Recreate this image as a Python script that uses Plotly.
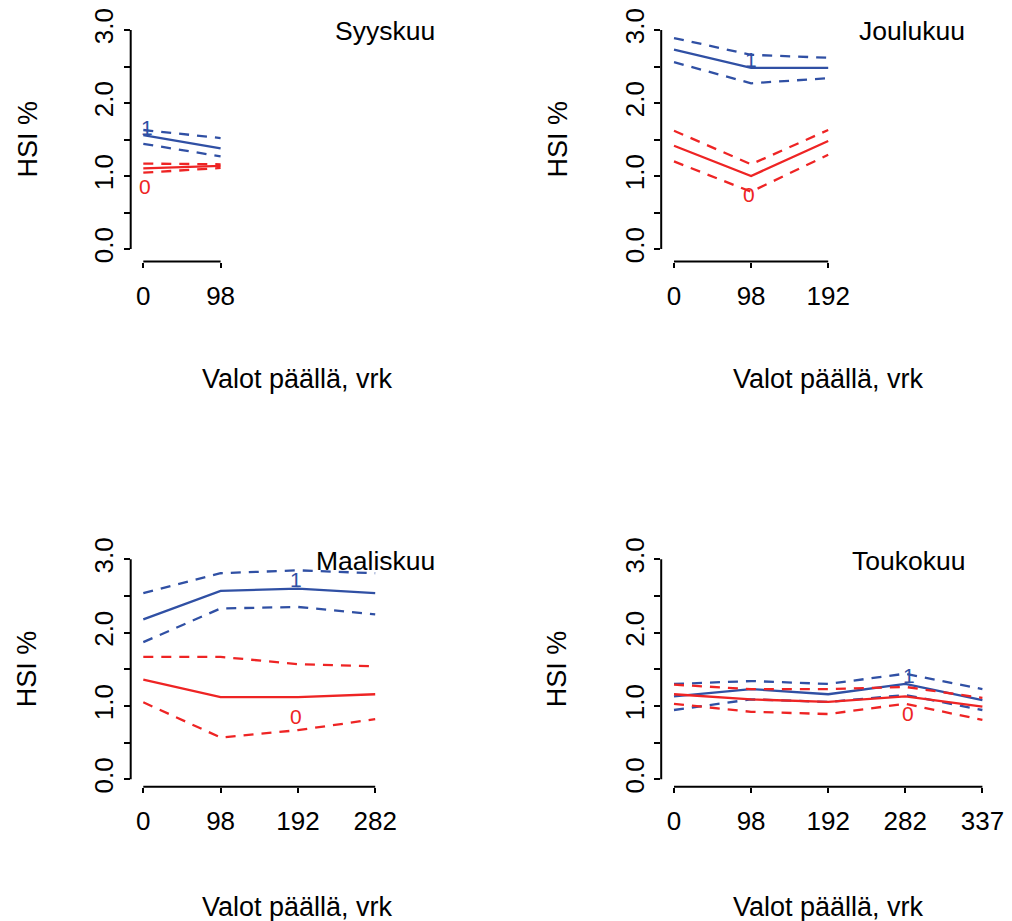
import plotly.graph_objects as go

# ---------------- data ----------------
panel_titles = ["Syyskuu", "Joulukuu", "Maaliskuu", "Toukokuu"]

syys_x = ["0", "98"]
syys_blue = [1.56, 1.38]
syys_blue_hi = [1.63, 1.52]
syys_blue_lo = [1.44, 1.27]
syys_red = [1.105, 1.14]
syys_red_hi = [1.17, 1.16]
syys_red_lo = [1.045, 1.11]

joulu_x = ["0", "98", "192"]
joulu_blue = [2.73, 2.48, 2.48]
joulu_blue_hi = [2.89, 2.66, 2.62]
joulu_blue_lo = [2.56, 2.27, 2.34]
joulu_red = [1.415, 1.00, 1.48]
joulu_red_hi = [1.62, 1.16, 1.63]
joulu_red_lo = [1.20, 0.785, 1.29]

maalis_x = ["0", "98", "192", "282"]
maalis_blue = [2.18, 2.57, 2.60, 2.54]
maalis_blue_hi = [2.54, 2.81, 2.85, 2.81]
maalis_blue_lo = [1.87, 2.33, 2.35, 2.25]
maalis_red = [1.36, 1.12, 1.12, 1.16]
maalis_red_hi = [1.67, 1.67, 1.57, 1.54]
maalis_red_lo = [1.05, 0.57, 0.67, 0.82]

touko_x = ["0", "98", "192", "282", "337"]
touko_blue = [1.13, 1.23, 1.16, 1.30, 1.08]
touko_blue_hi = [1.30, 1.34, 1.30, 1.44, 1.23]
touko_blue_lo = [0.945, 1.09, 1.055, 1.15, 0.945]
touko_red = [1.16, 1.09, 1.055, 1.13, 0.99]
touko_red_hi = [1.29, 1.23, 1.23, 1.26, 1.11]
touko_red_lo = [1.03, 0.92, 0.89, 1.03, 0.81]

# curve label anchor points (index on x, value on y)
lab1_pos = [(0.05, 1.67), (1.0, 2.59), (1.97, 2.72), (3.05, 1.42)]
lab0_pos = [(0.02, 0.85), (0.97, 0.74), (1.97, 0.855), (3.03, 0.90)]

y_tickvals = [0, 0.5, 1.0, 1.5, 2.0, 2.5, 3.0]
y_ticktext = ["0.0", "", "1.0", "", "2.0", "", "3.0"]

ylab = "HSI %"
xlab = "Valot päällä, vrk"

# ---------------- styling ----------------
BLUE = "#3050a4"
RED = "#ee2424"
FONT = "Liberation Sans, Arial, sans-serif"
W, H = 1012, 921

panels = [
    (syys_x, syys_blue, syys_blue_hi, syys_blue_lo, syys_red, syys_red_hi, syys_red_lo),
    (joulu_x, joulu_blue, joulu_blue_hi, joulu_blue_lo, joulu_red, joulu_red_hi, joulu_red_lo),
    (maalis_x, maalis_blue, maalis_blue_hi, maalis_blue_lo, maalis_red, maalis_red_hi, maalis_red_lo),
    (touko_x, touko_blue, touko_blue_hi, touko_blue_lo, touko_red, touko_red_hi, touko_red_lo),
]

# pixel geometry (left px, right px, x0 px, px per step) per column;
# (top px, bottom px, y=0 px, y=3 px) per row
col_geom = [(130.7, 465.1, 143.3, 77.3), (661.2, 995.1, 674.0, 77.1)]
row_geom = [(21.0, 261.5, 249.0, 30.0), (550.0, 786.7, 779.3, 559.3)]

fig = go.Figure()
layout = dict(
    width=W, height=H,
    margin=dict(l=0, r=0, t=0, b=0, autoexpand=False),
    paper_bgcolor="white", plot_bgcolor="white",
    showlegend=False,
    font=dict(family=FONT, color="black"),
)
annotations = []
shapes = []

for k, (cats, b, bhi, blo, r, rhi, rlo) in enumerate(panels):
    row, col = divmod(k, 2)
    xl, xr, x0px, dx = col_geom[col]
    top, bot, y0px, y3px = row_geom[row]
    upp = (y0px - y3px) / 3.0  # px per unit
    xref = "x" if k == 0 else f"x{k+1}"
    yref = "y" if k == 0 else f"y{k+1}"
    xa = "xaxis" if k == 0 else f"xaxis{k+1}"
    ya = "yaxis" if k == 0 else f"yaxis{k+1}"

    xr0 = -(x0px - xl) / dx
    xr1 = (xr - x0px) / dx
    yr0 = -(bot - y0px) / upp
    yr1 = 3.0 + (y3px - top) / upp

    for vals, color, dash in [
        (bhi, BLUE, "10px,8px"), (blo, BLUE, "10px,8px"), (b, BLUE, "solid"),
        (rhi, RED, "10px,8px"), (rlo, RED, "10px,8px"), (r, RED, "solid"),
    ]:
        fig.add_trace(go.Scatter(
            x=cats, y=vals, mode="lines", xaxis=xref, yaxis=yref,
            line=dict(color=color, width=2.3, dash=dash),
            hoverinfo="skip",
        ))

    layout[xa] = dict(
        domain=[xl / W, xr / W], anchor=yref, type="category", automargin=False,
        range=[xr0, xr1], showgrid=False, zeroline=False, showline=False,
        tickmode="array", tickvals=cats, ticktext=cats,
        ticks="outside", ticklen=5, tickwidth=2, tickcolor="black",
        tickfont=dict(size=26, family=FONT, color="black"),
        ticklabelstandoff=6,
    )
    layout[ya] = dict(
        domain=[1 - bot / H, 1 - top / H], anchor=xref, automargin=False,
        range=[yr0, yr1], showgrid=False, zeroline=False, showline=False,
        tickmode="array", tickvals=y_tickvals, ticktext=y_ticktext,
        ticks="outside", ticklen=6, tickwidth=2, tickcolor="black",
        tickangle=-90,
        tickfont=dict(size=26, family=FONT, color="black"),
        ticklabelstandoff=0,
    )

    # R-style axis lines spanning only the tick range
    shapes.append(dict(type="line", xref=f"{xref} domain", yref=yref,
                       x0=0, x1=0, y0=0, y1=3, line=dict(color="black", width=2)))
    shapes.append(dict(type="line", xref=xref, yref=f"{yref} domain",
                       x0=0, x1=len(cats) - 1, y0=0, y1=0,
                       line=dict(color="black", width=2)))

    # curve labels
    (lx1, ly1), (lx0, ly0) = lab1_pos[k], lab0_pos[k]
    annotations.append(dict(x=lx1, y=ly1, xref=xref, yref=yref, text="1",
                            showarrow=False, font=dict(size=21, color=BLUE, family=FONT)))
    annotations.append(dict(x=lx0, y=ly0, xref=xref, yref=yref, text="0",
                            showarrow=False, font=dict(size=21, color=RED, family=FONT)))

    # panel title (right aligned, inside top)
    title_right = 437 if col == 0 else 967
    title_y = 31 if row == 0 else 561
    annotations.append(dict(x=title_right / W, y=1 - title_y / H, xref="paper", yref="paper",
                            xanchor="right", yanchor="middle", text=panel_titles[k],
                            showarrow=False, font=dict(size=26.5, family=FONT, color="black")))

    # axis titles
    ylab_x = 27 if col == 0 else 557
    annotations.append(dict(x=ylab_x / W, y=1 - ((y0px + y3px) / 2) / H,
                            xref="paper", yref="paper", xanchor="center", yanchor="middle",
                            text=ylab, textangle=-90, showarrow=False,
                            font=dict(size=27, family=FONT, color="black")))
    xlab_x = (xl + xr) / 2
    xlab_y = 379 if row == 0 else 907
    annotations.append(dict(x=xlab_x / W, y=1 - xlab_y / H,
                            xref="paper", yref="paper", xanchor="center", yanchor="middle",
                            text=xlab, showarrow=False,
                            font=dict(size=27, family=FONT, color="black")))

layout["annotations"] = annotations
layout["shapes"] = shapes
fig.update_layout(**layout)
fig.write_html("out.html")
